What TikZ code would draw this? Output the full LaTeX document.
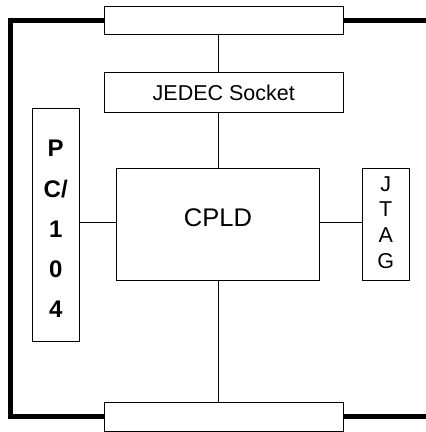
\documentclass[tikz,border=0pt]{standalone}
\usepackage{fontspec}
\setmainfont{Liberation Sans}
\begin{document}
\begin{tikzpicture}[x=1pt,y=1pt,
  box/.style={draw, line width=0.9pt, inner sep=0pt, fill=white},
  conn/.style={line width=0.9pt},
  bus/.style={line width=5pt, line join=miter, line cap=butt}]
\useasboundingbox (0,0) rectangle (426,432);
\node[box, minimum width=239pt, minimum height=28.3pt] (top) at (223.8,411.2) {};
\node[box, minimum width=239pt, minimum height=40.3pt, font=\fontsize{21.5}{25}\selectfont] (jedec) at (223.8,339.2) {JEDEC Socket};
\node[box, minimum width=203.4pt, minimum height=112.3pt, font=\fontsize{25.5}{30}\selectfont, text height=18.3pt, text depth=14pt] (cpld) at (218,207.2) {CPLD};
\node[box, minimum width=46.7pt, minimum height=233pt, align=center, font=\bfseries\fontsize{24}{40.3}\selectfont, text height=186.4pt, text depth=0pt] (pc) at (55.7,207.2) {P\\C/\\1\\0\\4};
\node[box, minimum width=46.7pt, minimum height=112.3pt, align=center, font=\fontsize{21.5}{25.8}\selectfont, text height=87.4pt, text depth=0pt] (jtag) at (385.7,207.2) {J\\T\\A\\G};
\node[box, minimum width=239pt, minimum height=28.3pt] (bot) at (223.8,15.2) {};
\coordinate (tl) at (10.8,411.2);
\coordinate (bl) at (10.8,15.2);
\coordinate (tr) at (426,411.2);
\coordinate (br) at (426,15.2);
\coordinate (hy) at (0,210);
\draw[bus] (top.west) -- (tl) -- (bl) -- (bot.west);
\draw[bus] (top.east) -- (tr);
\draw[bus] (bot.east) -- (br);
\draw[conn] (top.south -| cpld.north) -- (jedec.north -| cpld.north);
\draw[conn] (jedec.south -| cpld.north) -- (cpld.north);
\draw[conn] (cpld.south) -- (bot.north -| cpld.south);
\draw[conn] (pc.east |- hy) -- (cpld.west |- hy);
\draw[conn] (cpld.east |- hy) -- (jtag.west |- hy);
\end{tikzpicture}
\end{document}
